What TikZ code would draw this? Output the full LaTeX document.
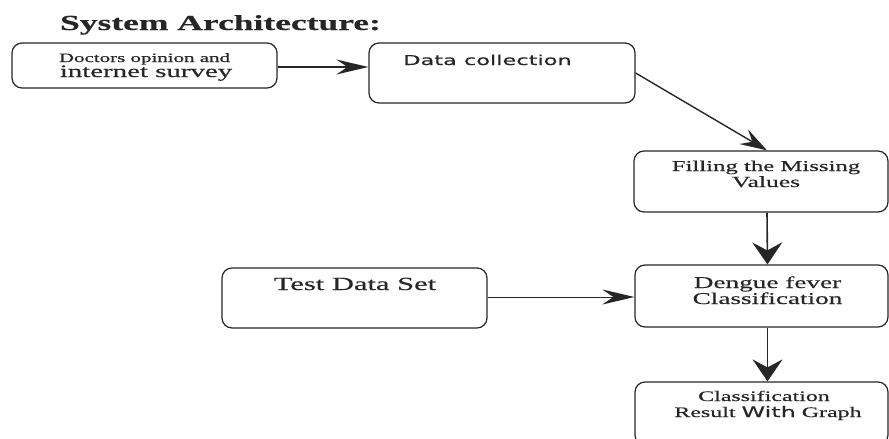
\documentclass[tikz,border=0pt]{standalone}
\usepackage{fontspec}
\usepackage{tikz}
\usetikzlibrary{arrows.meta}
\usetikzlibrary{calc}

\newfontfamily\wideserif[FakeStretch=1.65,FakeBold=0.5]{Liberation Serif}
\newfontfamily\widesans[FakeStretch=1.65,FakeBold=0.4]{DejaVu Sans}
\definecolor{inkgray}{HTML}{262626}

\begin{document}
\begin{tikzpicture}[x=1pt,y=1pt,yscale=-1,
        stepbox/.style={draw=inkgray,line width=1.2pt,rounded corners=10pt,inner sep=0pt},
        harrow/.style={draw=inkgray,line width=1.4pt,-{Stealth[length=32pt,width=15pt,inset=11pt]}},
        varrow/.style={draw=inkgray,line width=1.6pt,-{Stealth[length=22pt,width=30pt,inset=8pt]}},
        darrow/.style={draw=inkgray,line width=1.4pt,-{Stealth[length=27pt,width=17pt,inset=10pt]}},
        txt/.style={anchor=base,inner sep=0pt,text=inkgray}]
        % Set diagram size to 889 x 439, cut off what runs past it
        \useasboundingbox (0,0) rectangle (889,439);
        \clip (0,0) rectangle (889,439);

        % Title
        \node [txt] (title) at (220.5,30) {\wideserif\bfseries\fontsize{21.5}{25}\selectfont System Architecture:};

        % Boxes
        \node [stepbox,minimum width=265pt,minimum height=45pt] (doctors) at (144.5,65.5) {};
        \node [stepbox,minimum width=266pt,minimum height=60pt] (collect) at (502,73) {};
        \node [stepbox,minimum width=254pt,minimum height=61pt] (filling) at (761,181.5) {};
        \node [stepbox,minimum width=265pt,minimum height=60pt] (testset) at (354.5,298) {};
        \node [stepbox,minimum width=253pt,minimum height=62pt] (dengue) at (761.5,296) {};
        \node [stepbox,minimum width=253pt,minimum height=63pt] (result) at (761.5,413.5) {};

        % Text Node
        \node [txt] (doctorsA) at (144.5,62) {\wideserif\fontsize{12.7}{15}\selectfont Doctors opinion and};
        \node [txt] (doctorsB) at (146,77) {\wideserif\fontsize{17.5}{20}\selectfont internet survey};
        % Text Node
        \node [txt] (collectA) at (487.5,65) {\widesans\fontsize{13.6}{16}\selectfont Data collection};
        % Text Node
        \node [txt] (fillingA) at (766,171) {\wideserif\fontsize{15}{18}\selectfont Filling the Missing};
        \node [txt] (fillingB) at (766,187) {\wideserif\fontsize{15.5}{18}\selectfont Values};
        % Text Node
        \node [txt] (testsetA) at (355,290) {\wideserif\fontsize{18.5}{22}\selectfont Test Data Set};
        % Text Node
        \node [txt] (dengueA) at (767.5,288) {\wideserif\fontsize{16.5}{20}\selectfont Dengue fever};
        \node [txt] (dengueB) at (767.5,304) {\wideserif\fontsize{16.5}{20}\selectfont Classification};
        % Text Node
        \node [txt] (resultA) at (764,401) {\wideserif\fontsize{14.5}{17}\selectfont Classification};
        \node [txt] (resultB) at (768,417) {\wideserif\fontsize{14.5}{17}\selectfont Result {\widesans With} Graph};

        % Straight Lines
        \draw [harrow] ($(doctors.east)+(0,1.5)$) -- ($(doctors.east -| collect.west)+(0,1.5)$);
        \draw [darrow] (collect.east) -- ([xshift=6pt]filling.north);
        \draw [varrow] ([xshift=6pt]filling.south) -- ([xshift=6pt]dengue.north);
        \draw [harrow,line width=1pt] (testset.east |- 0,297) -- (dengue.west |- 0,297);
        \draw [varrow] ([xshift=6pt]dengue.south) -- ([xshift=6pt]result.north);
\end{tikzpicture}
\end{document}
